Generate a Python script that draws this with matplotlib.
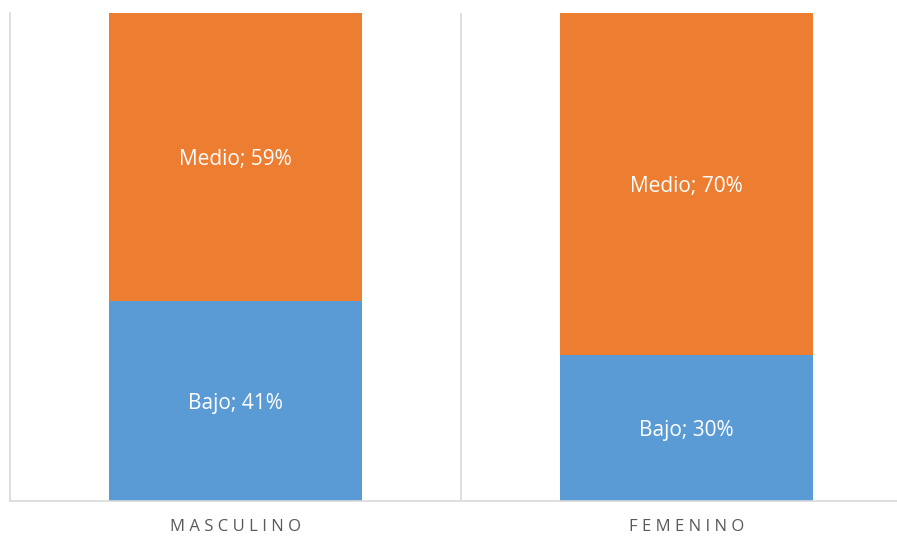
import matplotlib
matplotlib.use("Agg")
import matplotlib.pyplot as plt
import numpy as np

categorias = ["MASCULINO", "FEMENINO"]
series = ["Bajo", "Medio"]
bajo = [41, 30]
medio = [59, 70]
colores = ["#5B9BD5", "#ED7D31"]

plt.rcParams['font.family'] = ['Open Sans', 'DejaVu Sans']

fig = plt.figure(figsize=(8.97, 5.38), dpi=100)
ax = fig.add_axes([10/897, 37/538, 902/897, 488/538])

x = np.arange(len(categorias))
w = 0.559
ax.bar(x, bajo, w, color=colores[0])
ax.bar(x, medio, w, bottom=bajo, color=colores[1])

for i in range(len(categorias)):
    ax.text(x[i], bajo[i] / 2, "Bajo; %d%%" % bajo[i], ha="center", va="center_baseline",
            color="white", fontsize=15)
    ax.text(x[i], bajo[i] + medio[i] / 2, "Medio; %d%%" % medio[i], ha="center",
            va="center_baseline", color="white", fontsize=15)

ax.set_xlim(-0.5, len(categorias) - 0.5)
ax.set_ylim(0, 100)
ax.axvline(0.5, color="#D9D9D9", lw=1.2, zorder=0)
for s in ["top", "right"]:
    ax.spines[s].set_visible(False)
for s in ["left", "bottom"]:
    ax.spines[s].set_color("#D9D9D9")
    ax.spines[s].set_linewidth(1.2)
ax.set_yticks([])
ax.set_xticks(x)
ax.set_xticklabels(["\u2009\u200a".join(c) for c in categorias], color="#595959", fontsize=12)
ax.tick_params(axis="x", length=0, pad=13)

fig.savefig("out.png", dpi=100)
